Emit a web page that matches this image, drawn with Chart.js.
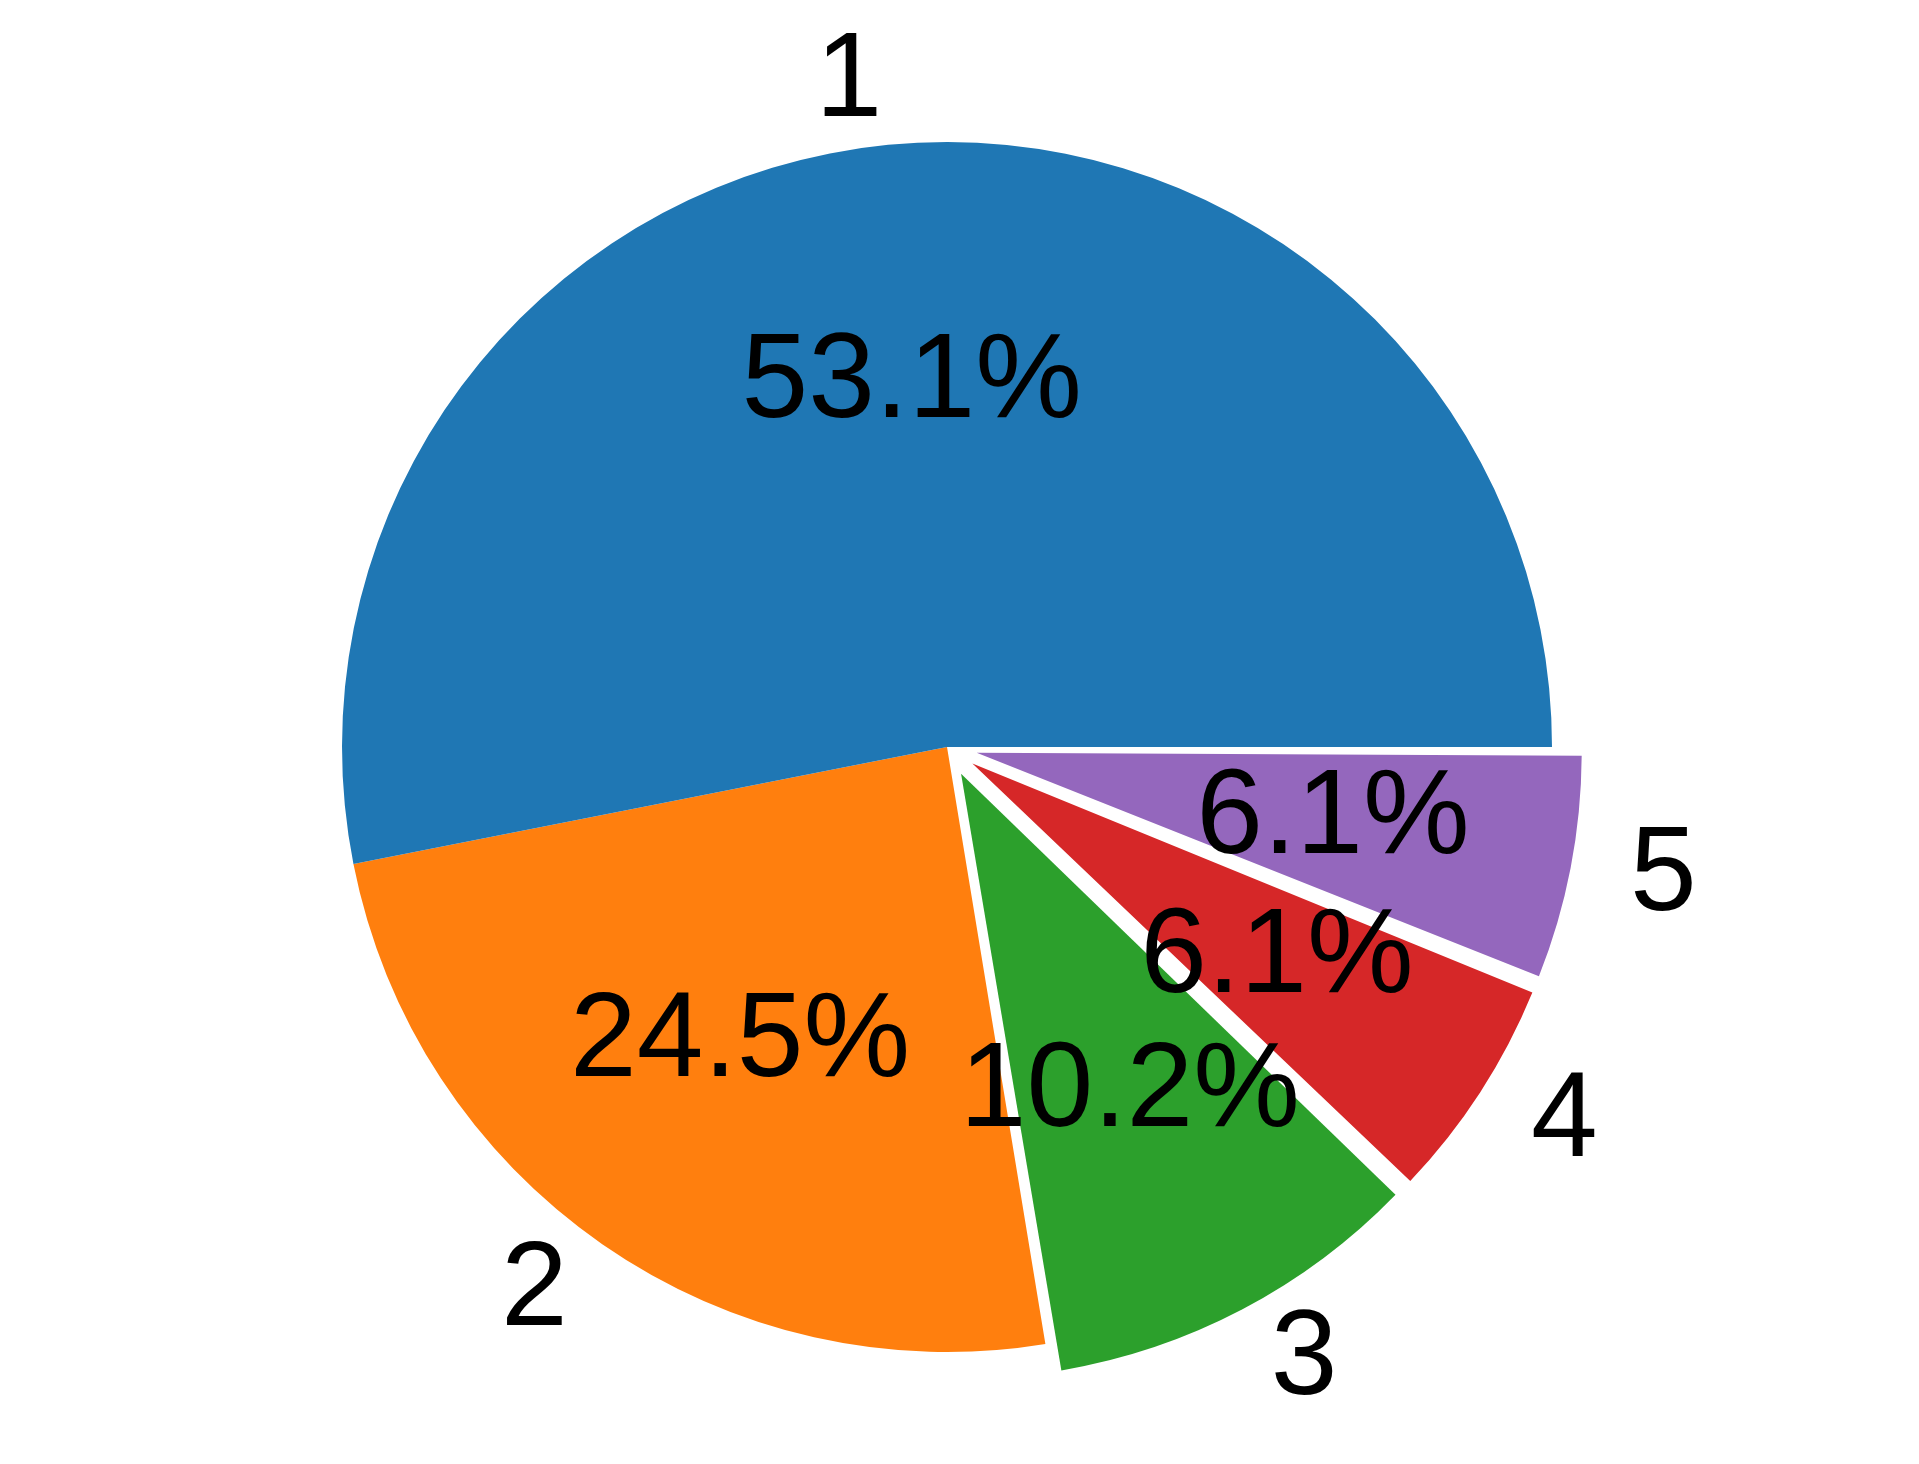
<!DOCTYPE html>
<html>
<head>
<meta charset="utf-8">
<script src="https://cdn.jsdelivr.net/npm/chart.js@4.4.1/dist/chart.umd.min.js"></script>
<style>
html, body { margin: 0; padding: 0; background: #ffffff; }
#wrap { width: 1919px; height: 1464px; }
</style>
</head>
<body>
<div id="wrap"><canvas id="c" width="1919" height="1464"></canvas></div>
<script>
// ---- data (matplotlib order: counter-clockwise from 3 o'clock) ----
const categories = ['1', '2', '3', '4', '5'];
const shares = [53.1, 24.5, 10.2, 6.1, 6.1];
const explode = [0, 0, 0.05, 0.05, 0.05];
const sliceColors = ['#1f77b4', '#ff7f0e', '#2ca02c', '#d62728', '#9467bd'];

const R = 605;            // pie radius in px
const FONT = '120px "Liberation Sans", Arial, Helvetica, sans-serif';

// Chart.js draws clockwise on screen; reverse to reproduce matplotlib's CCW order
const labelsCW = categories.slice().reverse();
const dataCW = shares.slice().reverse();
const colorsCW = sliceColors.slice().reverse();
const offsetsCW = explode.slice().reverse().map(e => 4 * e * R); // arc translates by offset/4

const total = shares.reduce((a, b) => a + b, 0);

const radiusFix = {
  id: 'radiusFix',
  beforeDatasetsDraw(chart) {
    const meta = chart.getDatasetMeta(0);
    meta.data.forEach(arc => {
      const o = (arc.options && arc.options.offset) || 0;
      const fix = 1 - Math.sin(Math.min(Math.PI, arc.circumference || 0));
      arc.outerRadius = R - (o / 4) * fix;
    });
  }
};

const pieText = {
  id: 'pieText',
  afterDatasetsDraw(chart) {
    const ctx = chart.ctx;
    const meta = chart.getDatasetMeta(0);
    ctx.save();
    ctx.font = FONT;
    ctx.fillStyle = '#000000';
    ctx.textBaseline = 'alphabetic';
    const baseShift = 0.258 * 120;
    meta.data.forEach((arc, i) => {
      const mid = (arc.startAngle + arc.endAngle) / 2;
      const t = ((arc.options && arc.options.offset) || 0) / 4;
      const cx = arc.x + Math.cos(mid) * t;
      const cy = arc.y + Math.sin(mid) * t;
      // percentage
      const v = chart.data.datasets[0].data[i];
      const pct = (v / total * 100).toFixed(1) + '%';
      ctx.textAlign = 'center';
      ctx.fillText(pct, cx + 0.6 * R * Math.cos(mid), cy + 0.6 * R * Math.sin(mid) + baseShift);
      // category label
      const xt = cx + 1.1 * R * Math.cos(mid);
      const yt = cy + 1.1 * R * Math.sin(mid);
      ctx.textAlign = (xt - arc.x) > 0 ? 'left' : 'right';
      ctx.fillText(chart.data.labels[i], xt, yt + baseShift);
    });
    ctx.restore();
  }
};

new Chart(document.getElementById('c'), {
  type: 'pie',
  data: {
    labels: labelsCW,
    datasets: [{
      data: dataCW,
      backgroundColor: colorsCW,
      borderWidth: 0,
      offset: offsetsCW
    }]
  },
  options: {
    responsive: false,
    devicePixelRatio: 1,
    animation: false,
    events: [],
    rotation: 90,
    radius: R,
    layout: { padding: { left: 0, right: 25, top: 30, bottom: 0 } },
    plugins: {
      legend: { display: false },
      tooltip: { enabled: false },
      title: { display: false }
    }
  },
  plugins: [radiusFix, pieText]
});
</script>
</body>
</html>
